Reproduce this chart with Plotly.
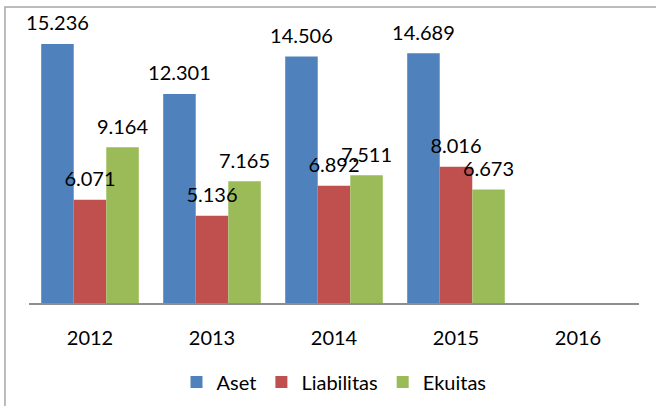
import plotly.graph_objects as go

years = ["2012", "2013", "2014", "2015", "2016"]
aset = [15.236, 12.301, 14.506, 14.689, None]
liabilitas = [6.071, 5.136, 6.892, 8.016, None]
ekuitas = [9.164, 7.165, 7.511, 6.673, None]

series = [
    ("Aset", aset, "#4F81BD"),
    ("Liabilitas", liabilitas, "#C0504D"),
    ("Ekuitas", ekuitas, "#9BBB59"),
]

FONT = "Lato, 'Open Sans', sans-serif"

def fmt(v):
    return "" if v is None else f"{v:.3f}"

fig = go.Figure()
for name, vals, color in series:
    fig.add_trace(go.Bar(
        name=name, x=years, y=vals, marker_color=color,
        marker_line_width=0, hoverinfo="skip",
    ))
for name, vals, color in series:
    fig.add_trace(go.Scatter(
        x=years, y=vals, mode="markers+text",
        text=[fmt(v) for v in vals], textposition="top center",
        textfont=dict(family=FONT, size=20, color="#000000"),
        marker=dict(size=12, opacity=0),
        showlegend=False, hoverinfo="skip", cliponaxis=False,
    ))

fig.update_layout(
    width=656, height=406,
    margin=dict(l=29, r=17, t=14, b=103, autoexpand=False),
    paper_bgcolor="white", plot_bgcolor="white",
    barmode="group", bargap=0.2, bargroupgap=0,
    scattermode="group", scattergap=0.2,
    font=dict(family=FONT, size=20, color="#000000"),
    showlegend=True,
    legend=dict(orientation="h", x=0.5, xanchor="center", y=-0.273, yanchor="middle",
                font=dict(family=FONT, size=20, color="#000000"),
                traceorder="normal", itemwidth=30),
    xaxis=dict(type="category", categoryorder="array", categoryarray=years,
               range=[-0.5, 4.5], automargin=False,
               showline=True, linecolor="#8e8e8e", linewidth=1.5,
               showgrid=False, ticks="", ticklabelstandoff=16,
               tickfont=dict(family=FONT, size=20, color="#000000"),
               zeroline=False),
    yaxis=dict(range=[0, 17], visible=False, showgrid=False, zeroline=False),
    shapes=[dict(type="rect", xref="paper", yref="paper",
                 x0=-0.0394, x1=1.2, y0=-0.6, y1=1.024,
                 line=dict(color="#a6a6a6", width=1.5), fillcolor="rgba(0,0,0,0)",
                 layer="below")],
)

fig.write_html("out.html", config={"displayModeBar": False},
               post_script="document.body.style.margin='0';")
